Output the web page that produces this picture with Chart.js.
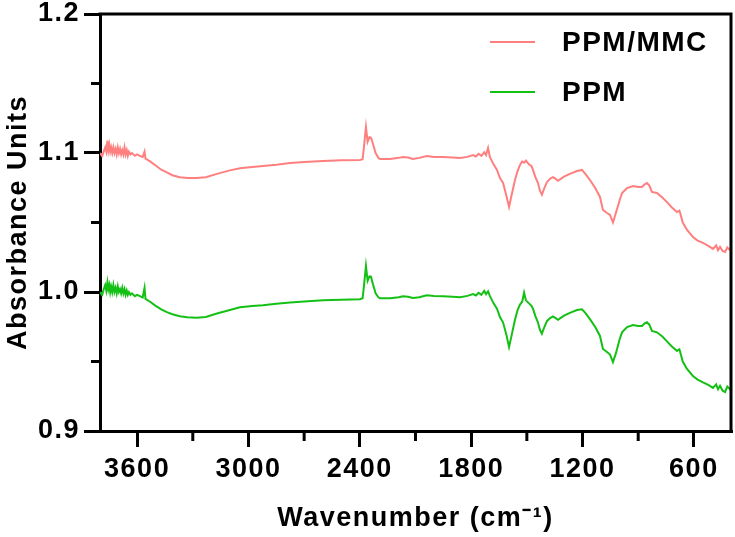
<!DOCTYPE html>
<html>
<head>
<meta charset="utf-8">
<script src="https://cdn.jsdelivr.net/npm/chart.js@4.4.1/dist/chart.umd.min.js"></script>
<style>
  html, body { margin: 0; padding: 0; background: #fff; }
  #wrap { width: 735px; height: 537px; position: relative; }
</style>
</head>
<body>
<div id="wrap"><canvas id="ftir"></canvas></div>
<script>
// Wavenumbers (cm-1)
const wavenumbers = [
  3800, 3795, 3788, 3780, 3772, 3766, 3760, 3755, 3750, 3745, 3740, 3734, 3728, 3722, 3716, 3710,
  3704, 3698, 3692, 3686, 3680, 3674, 3668, 3662, 3656, 3650, 3644, 3636, 3628, 3620, 3612, 3600,
  3585, 3570, 3560, 3555, 3530, 3500, 3470, 3440, 3410, 3370, 3330, 3280, 3230, 3170, 3100, 3046,
  2980, 2922, 2850, 2776, 2700, 2598, 2500, 2400, 2385, 2378, 2367, 2358, 2348, 2340, 2330, 2315,
  2300, 2291, 2237, 2190, 2167, 2140, 2114, 2080, 2039, 2000, 1952, 1900, 1860, 1820, 1790, 1775,
  1760, 1745, 1730, 1720, 1709, 1699, 1680, 1661, 1645, 1628, 1610, 1596, 1585, 1564, 1550, 1537,
  1525, 1515, 1505, 1490, 1475, 1467, 1455, 1440, 1430, 1419, 1405, 1392, 1375, 1359, 1345, 1332,
  1300, 1268, 1230, 1203, 1185, 1160, 1130, 1106, 1090, 1070, 1052, 1036, 1020, 1000, 987, 960,
  928, 900, 880, 865, 853, 840, 826, 799, 770, 745, 720, 691, 678, 672, 660, 637,
  605, 580, 551, 520, 497, 480, 470, 459, 445, 432, 420, 405, 400
];

const ppmMmc = [
  1.100, 1.099, 1.098, 1.101, 1.104, 1.101, 1.109, 1.102, 1.106, 1.101, 1.104, 1.100, 1.104, 1.100, 1.103, 1.099,
  1.104, 1.100, 1.103, 1.099, 1.102, 1.099, 1.104, 1.099, 1.102, 1.098, 1.101, 1.099, 1.100, 1.099, 1.098, 1.099,
  1.098, 1.097, 1.101, 1.096, 1.094, 1.091, 1.088, 1.086, 1.084, 1.0825, 1.082, 1.082, 1.0825, 1.085, 1.0875, 1.089,
  1.090, 1.0906, 1.0915, 1.0928, 1.0935, 1.0942, 1.0947, 1.095, 1.0955, 1.104, 1.1187, 1.108, 1.1115, 1.111, 1.107, 1.100,
  1.0965, 1.0957, 1.0957, 1.0965, 1.0971, 1.0968, 1.0957, 1.0965, 1.0978, 1.0972, 1.0971, 1.0968, 1.0964, 1.0972, 1.0985, 1.0975,
  1.0995, 1.098, 1.1005, 1.0985, 1.1036, 1.097, 1.092, 1.0878, 1.082, 1.0784, 1.069, 1.0612, 1.068, 1.0806, 1.087, 1.0914,
  1.094, 1.093, 1.0945, 1.092, 1.0905, 1.0878, 1.083, 1.0784, 1.073, 1.070, 1.075, 1.079, 1.0815, 1.0827, 1.0815, 1.080,
  1.083, 1.085, 1.087, 1.0878, 1.085, 1.0806, 1.0745, 1.0684, 1.059, 1.057, 1.0554, 1.050, 1.057, 1.066, 1.0712, 1.0748,
  1.0763, 1.0755, 1.0755, 1.0775, 1.0784, 1.0765, 1.072, 1.0712, 1.068, 1.0647, 1.061, 1.0576, 1.0585, 1.056, 1.050, 1.0446,
  1.0396, 1.037, 1.0353, 1.033, 1.031, 1.0335, 1.030, 1.0324, 1.0295, 1.0288, 1.032, 1.030, 1.031
];

const ppm = [
  1.000, 0.999, 0.998, 1.002, 1.005, 1.001, 1.007, 1.002, 1.005, 1.000, 1.004, 1.000, 1.005, 1.000, 1.003, 0.999,
  1.004, 1.000, 1.002, 0.999, 1.003, 0.999, 1.002, 0.998, 1.001, 0.998, 1.000, 0.998, 0.999, 0.998, 0.997, 0.998,
  0.997, 0.996, 1.003, 0.995, 0.993, 0.990, 0.9875, 0.9855, 0.984, 0.9825, 0.9818, 0.9815, 0.982, 0.9845, 0.987, 0.989,
  0.990, 0.9905, 0.9915, 0.9925, 0.9932, 0.994, 0.9945, 0.9948, 0.9955, 1.004, 1.0187, 1.008, 1.0112, 1.011, 1.006, 0.999,
  0.9962, 0.9955, 0.9955, 0.9963, 0.997, 0.9966, 0.9957, 0.9963, 0.9976, 0.9972, 0.997, 0.9966, 0.9963, 0.9972, 0.9985, 0.9975,
  0.9995, 0.998, 1.0008, 0.9985, 1.0005, 0.997, 0.992, 0.988, 0.982, 0.978, 0.969, 0.9604, 0.967, 0.980, 0.987, 0.991,
  0.993, 0.9995, 0.994, 0.992, 0.990, 0.988, 0.983, 0.978, 0.973, 0.970, 0.975, 0.979, 0.9812, 0.9825, 0.9812, 0.980,
  0.983, 0.985, 0.987, 0.9876, 0.985, 0.9805, 0.9745, 0.9684, 0.959, 0.957, 0.955, 0.9496, 0.956, 0.966, 0.971, 0.9748,
  0.9762, 0.9755, 0.9755, 0.9775, 0.9782, 0.9765, 0.972, 0.971, 0.968, 0.9645, 0.961, 0.9576, 0.9588, 0.956, 0.950, 0.9446,
  0.9396, 0.937, 0.935, 0.933, 0.931, 0.9335, 0.930, 0.9325, 0.929, 0.928, 0.932, 0.930, 0.931
];

const xMajorTicks = [3600, 3000, 2400, 1800, 1200, 600];
const xMinorTicks = [3300, 2700, 2100, 1500, 900];
const yMinorTicks = [0.95, 1.05, 1.15];

const PINK = '#ff7f7f';
const GREEN = '#14c014';
const FONT = "'Liberation Sans', Arial, sans-serif";

// espaciado de letras un poco mas ancho, como en la figura original
const spacing = {
  id: 'spacing',
  beforeDraw(chart) { chart.ctx.letterSpacing = '1.5px'; }
};

// marcas menores + marco superior/derecho + leyenda dentro del area
const decor = {
  id: 'decor',
  afterDraw(chart) {
    const ctx = chart.ctx;
    const a = chart.chartArea;
    const xs = chart.scales.x, ys = chart.scales.y;
    ctx.save();
    ctx.strokeStyle = '#000';
    ctx.lineWidth = 3;
    ctx.beginPath();
    xMinorTicks.forEach(v => {
      const px = xs.getPixelForValue(v);
      ctx.moveTo(px, a.bottom);
      ctx.lineTo(px, a.bottom + 10);
    });
    yMinorTicks.forEach(v => {
      const py = ys.getPixelForValue(v);
      ctx.moveTo(a.left - 9, py);
      ctx.lineTo(a.left, py);
    });
    // marco
    ctx.moveTo(a.left - 1.5, a.top);
    ctx.lineTo(a.right, a.top);
    ctx.lineTo(a.right, a.bottom);
    ctx.stroke();

    // leyenda
    ctx.font = "bold 28px " + FONT;
    ctx.letterSpacing = '1.5px';
    ctx.textBaseline = 'middle';
    ctx.textAlign = 'left';
    chart.data.datasets.forEach((ds, i) => {
      const y = a.top + 28 + i * 50;
      ctx.strokeStyle = ds.borderColor;
      ctx.lineWidth = 2;
      ctx.beginPath();
      ctx.moveTo(a.right - 241, y);
      ctx.lineTo(a.right - 196, y);
      ctx.stroke();
      ctx.fillStyle = '#000';
      ctx.fillText(ds.label, a.right - 169, y + 1);
    });
    ctx.restore();
  }
};

new Chart(document.getElementById('ftir'), {
  type: 'line',
  data: {
    datasets: [
      {
        label: 'PPM/MMC',
        data: wavenumbers.map((w, i) => ({ x: w, y: ppmMmc[i] })),
        borderColor: PINK,
        borderWidth: 2,
        pointRadius: 0,
        tension: 0
      },
      {
        label: 'PPM',
        data: wavenumbers.map((w, i) => ({ x: w, y: ppm[i] })),
        borderColor: GREEN,
        borderWidth: 2,
        pointRadius: 0,
        tension: 0
      }
    ]
  },
  options: {
    responsive: true,
    maintainAspectRatio: false,
    animation: false,
    layout: { padding: { top: 14, right: 4, left: 0, bottom: 0 } },
    plugins: { legend: { display: false }, tooltip: { enabled: false } },
    scales: {
      x: {
        type: 'linear',
        reverse: true,
        min: 400,
        max: 3800,
        afterBuildTicks: s => { s.ticks = xMajorTicks.map(v => ({ value: v })); },
        afterFit: s => { s.height = 106; s.paddingLeft = 0; s.paddingRight = 0; },
        grid: { drawOnChartArea: false, drawTicks: true, tickLength: 16, lineWidth: 3, color: '#000' },
        border: { display: true, width: 3, color: '#000' },
        ticks: {
          color: '#000',
          padding: 6,
          maxRotation: 0,
          font: { family: FONT, size: 27, weight: 'bold' },
          callback: v => String(v)
        },
        title: {
          display: true,
          text: 'Wavenumber (cm\u207B\u00B9)',
          color: '#000',
          padding: { top: 0, bottom: 2 },
          font: { family: FONT, size: 27, weight: 'bold' }
        }
      },
      y: {
        min: 0.9,
        max: 1.2,
        ticks: {
          stepSize: 0.1,
          color: '#000',
          padding: 4,
          font: { family: FONT, size: 27, weight: 'bold' },
          callback: v => v.toFixed(1)
        },
        afterFit: s => { s.width = 100; s.paddingTop = 0; s.paddingBottom = 0; },
        grid: { drawOnChartArea: false, drawTicks: true, tickLength: 16, lineWidth: 3, color: '#000' },
        border: { display: true, width: 3, color: '#000' },
        title: {
          display: true,
          text: 'Absorbance Units',
          color: '#000',
          padding: { top: 2, bottom: 0 },
          font: { family: FONT, size: 27, weight: 'bold' }
        }
      }
    }
  },
  plugins: [spacing, decor]
});
</script>
</body>
</html>
